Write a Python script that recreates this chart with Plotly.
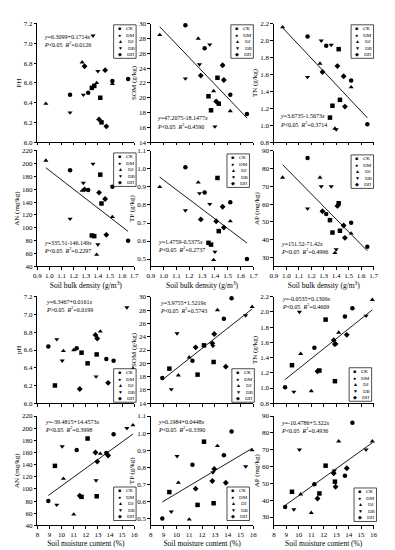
import plotly.graph_objects as go

# ---------------- data ----------------
groups = ["CK", "DM", "DJ", "DB", "DH"]
sample_group = ["DM", "CK", "DB", "DB", "DJ", "DJ", "DM", "DH", "CK", "CK",
                "DH", "DB", "CK", "DH", "DJ", "DM", "DH", "DM", "DB", "DJ"]
bulk_density = [1.65, 1.43, 1.40, 1.28, 1.52, 1.39, 1.52, 1.47, 1.37, 1.42,
                1.29, 1.17, 1.35, 1.46, 1.27, 1.32, 1.41, 1.17, 1.36, 0.97]
moisture = [8.9, 9.45, 9.6, 10.05, 10.15, 11.0, 11.25, 11.5, 11.65, 12.15,
            12.8, 12.85, 12.9, 12.95, 13.2, 13.7, 13.85, 14.3, 15.4, 15.9]
ph = [6.64, 6.20, 6.72, 6.48, 6.59, 6.60, 6.62, 6.16, 6.57, 6.45,
      6.77, 6.30, 6.55, 6.73, 6.81, 6.50, 6.23, 6.48, 7.08, 6.39]
som = [17.8, 19.2, 16.1, 24.5, 18.2, 20.9, 20.4, 22.4, 18.3, 22.7,
       23.0, 22.6, 20.2, 24.4, 28.0, 26.7, 19.5, 29.8, 27.2, 28.5]
tn = [1.01, 1.30, 0.95, 2.00, 1.45, 0.96, 1.53, 1.22, 1.23, 1.90,
      1.63, 1.57, 1.09, 1.58, 1.73, 1.94, 1.70, 2.05, 1.95, 2.16]
an = [80, 138, 74, 170, 117, 58, 164, 89, 87, 183,
      160, 114, 88, 145, 158, 159, 155, 190, 200, 205]
tp = [0.50, 0.655, 0.54, 0.865, 0.71, 0.495, 0.815, 0.675, 0.58, 0.95,
      0.72, 0.77, 0.59, 0.79, 0.925, 0.87, 0.71, 1.01, 0.805, 0.90]
ap = [36, 45, 34.5, 70, 43.5, 32.5, 49.5, 41, 44, 60.5,
      56, 57.5, 51, 48, 75, 54.5, 59, 86, 70, 75]

bd_intercepts = [6.3099, 47.2075, 3.6735, 335.51, 1.4759, 151.52]
bd_slopes = [0.1714, -18.1477, -1.5673, -146.149, -0.5375, -71.42]
bd_eq = ["6.3099+0.1714", "47.2075-18.1477", "3.6735-1.5673",
         "335.51-146.149", "1.4759-0.5375", "151.52-71.42"]
bd_p = ["&lt;0.05", "&lt;0.05", "&lt;0.05", "&lt;0.05", "&lt;0.05", "&lt;0.05"]
bd_r2 = ["0.0126", "0.4590", "0.3714", "0.2297", "0.2737", "0.4996"]

smc_intercepts = [6.3467, 3.9755, -0.0535, -39.4815, 0.1984, -10.4786]
smc_slopes = [0.0161, 1.5219, 0.1309, 14.4573, 0.0448, 5.322]
smc_eq = ["6.3467+0.0161", "3.9755+1.5219", "-0.0535+0.1309",
          "-39.4815+14.4573", "0.1984+0.0448", "-10.4786+5.322"]
smc_p = ["&gt;0.05", "&lt;0.05", "&lt;0.05", "&lt;0.05", "&lt;0.05", "&lt;0.05"]
smc_r2 = ["0.0199", "0.5743", "0.4609", "0.3998", "0.3390", "0.4936"]

props = [ph, som, tn, an, tp, ap]
top_titles = ["PH", "SOM (g/kg)", "TN (g/kg)", "AN (mg/kg)", "TP (g/kg)", "AP (mg/kg)"]
bottom_titles = ["pH", "SOM (g/kg)", "TN (g/kg)", "AN (mg/kg)", "TP (g/kg)", "AP (mg/kg)"]
y_ranges = [[6.0, 7.2], [14, 30], [0.8, 2.2], [40, 220], [0.46, 1.1], [25, 90]]
y_ticks = [[6.0, 6.2, 6.4, 6.6, 6.8, 7.0, 7.2],
           [14, 16, 18, 20, 22, 24, 26, 28, 30],
           [0.8, 1.0, 1.2, 1.4, 1.6, 1.8, 2.0, 2.2],
           [40, 60, 80, 100, 120, 140, 160, 180, 200, 220],
           [0.5, 0.6, 0.7, 0.8, 0.9, 1.0, 1.1],
           [30, 40, 50, 60, 70, 80, 90]]
y_fmt = [".1f", "d", ".1f", "d", ".1f", "d"]
bd_ticks = [0.9, 1.0, 1.1, 1.2, 1.3, 1.4, 1.5, 1.6, 1.7]
smc_ticks = [8, 9, 10, 11, 12, 13, 14, 15, 16]

# ---------------- layout geometry (pixels) ----------------
W, H = 395, 550
FONT = "Liberation Serif, Times New Roman, serif"
cols_px = [(26, 125), (142, 247), (268, 370)]
rows_px = [(12, 132), (141, 258), (289, 397), (410, 521)]
# equation text left x and first-line y (px)
eq_pos = [(31, 25), (146, 108), (272, 106), (31, 234), (147, 233), (273, 235),
          (33, 294), (149, 295), (274, 291), (32, 416), (147, 416), (273, 417)]
# legend box: right x, top y (px)
LEG_W, LEG_H = 23, 34
leg_pos = [(127, 13), (247, 13), (370, 13), (127, 143), (243, 144), (370, 145),
           (127, 362), (248, 362), (368, 361), (127, 482), (243, 482), (373, 483)]

symbol_map = {"CK": "square", "DM": "circle", "DJ": "triangle-up",
              "DB": "triangle-down", "DH": "diamond"}
legend_glyph = {"CK": "\u25A0", "DM": "\u25CF", "DJ": "\u25B2", "DB": "\u25BC", "DH": "\u25C6"}

fig = go.Figure()
layout = dict(width=W, height=H, margin=dict(l=0, r=0, t=0, b=0),
              paper_bgcolor="white", plot_bgcolor="white", showlegend=False,
              font=dict(family=FONT, size=7, color="black"))
annotations = []
shapes = []

for n in range(12):
    half = 0 if n < 6 else 1
    k = n % 6
    row = (k // 3) + 2 * half
    col = k % 3
    ax = "" if n == 0 else str(n + 1)
    xs = bulk_density if half == 0 else moisture
    ys = props[k]
    xr = [0.9, 1.7] if half == 0 else [8, 16]
    xt = bd_ticks if half == 0 else smc_ticks

    fig.add_trace(go.Scatter(
        x=xs, y=ys, mode="markers", xaxis="x" + ax, yaxis="y" + ax,
        marker=dict(symbol=[symbol_map[g] for g in sample_group], size=4.5,
                    color="black", line=dict(width=0)),
        hoverinfo="skip", cliponaxis=False))

    a = (bd_intercepts if half == 0 else smc_intercepts)[k]
    b = (bd_slopes if half == 0 else smc_slopes)[k]
    if k != 0:
        x0, x1 = min(xs), max(xs)
        fig.add_trace(go.Scatter(
            x=[x0, x1], y=[a + b * x0, a + b * x1], mode="lines",
            xaxis="x" + ax, yaxis="y" + ax,
            line=dict(color="black", width=0.9), hoverinfo="skip"))

    l, r = cols_px[col]
    t, btm = rows_px[row]
    show_xlabels = row in (1, 3)
    xaxis = dict(
        domain=[l / W, r / W], range=xr, anchor="y" + ax,
        tickmode="array", tickvals=xt, tickformat=(".1f" if half == 0 else "d"),
        showticklabels=show_xlabels, showline=True, linecolor="black", linewidth=0.8,
        ticks="outside", ticklen=2.5, tickwidth=0.8, tickcolor="black",
        showgrid=False, zeroline=False, tickfont=dict(size=7))
    if row == 1:
        xaxis["title"] = dict(text="Soil bulk density (g/m<sup>3</sup>)",
                              font=dict(size=7.5), standoff=1)
    elif row == 3:
        xaxis["title"] = dict(text="Soil moisture content (%)",
                              font=dict(size=7.5), standoff=1)
    layout["xaxis" + ax] = xaxis
    layout["yaxis" + ax] = dict(
        domain=[1 - btm / H, 1 - t / H], range=y_ranges[k], anchor="x" + ax,
        tickmode="array", tickvals=y_ticks[k], tickformat=y_fmt[k],
        showline=True, linecolor="black", linewidth=0.8,
        ticks="outside", ticklen=2.5, tickwidth=0.8, tickcolor="black",
        showgrid=False, zeroline=False, tickfont=dict(size=7),
        title=dict(text=(top_titles if half == 0 else bottom_titles)[k],
                   font=dict(size=7), standoff=1))

    eqs = bd_eq if half == 0 else smc_eq
    ps = bd_p if half == 0 else smc_p
    r2s = bd_r2 if half == 0 else smc_r2
    ex, ey = eq_pos[n]
    annotations.append(dict(
        xref="paper", yref="paper", x=ex / W, y=1 - ey / H, xanchor="left", yanchor="middle",
        text="<i>y</i>=" + eqs[k] + "<i>x</i>", showarrow=False,
        font=dict(size=6, family=FONT)))
    annotations.append(dict(
        xref="paper", yref="paper", x=ex / W, y=1 - (ey + 7.5) / H, xanchor="left", yanchor="middle",
        text="<i>P</i>" + ps[k] + "  <i>R</i><sup>2</sup>=" + r2s[k], showarrow=False,
        font=dict(size=6, family=FONT)))

    # legend: bordered rectangle + text
    lx, ly = leg_pos[n]
    shapes.append(dict(type="rect", xref="paper", yref="paper",
                       x0=(lx - LEG_W) / W, x1=lx / W,
                       y0=1 - (ly + LEG_H) / H, y1=1 - ly / H,
                       line=dict(color="black", width=0.7), fillcolor="white",
                       layer="above"))
    leg_text = "<br>".join(legend_glyph[g] + "    " + g for g in groups)
    annotations.append(dict(
        xref="paper", yref="paper", x=(lx - LEG_W + 2) / W, y=1 - (ly + LEG_H / 2) / H,
        xanchor="left", yanchor="middle", align="left",
        text=leg_text, showarrow=False,
        font=dict(size=5, family=FONT, color="black")))

layout["annotations"] = annotations
layout["shapes"] = shapes
fig.update_layout(**layout)
fig.write_html("out.html")
